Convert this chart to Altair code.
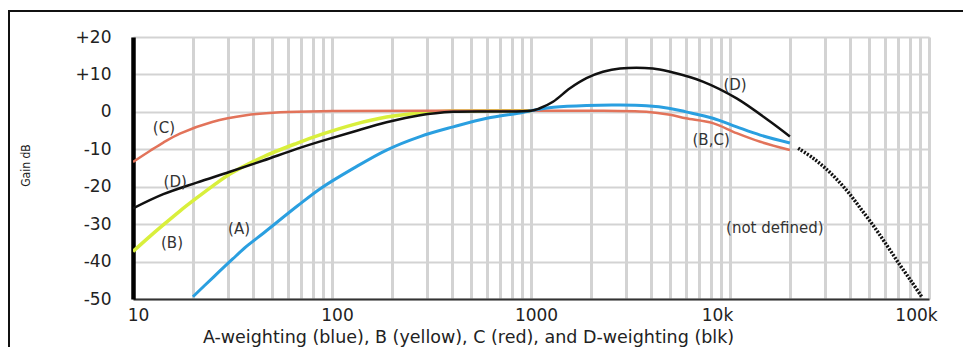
import altair as alt
import pandas as pd

# ---------------- data ----------------
a_freq = [20, 25.3, 31.7, 37.3, 45.5, 67.2, 88, 128, 188, 277, 407, 600, 880, 1000, 1300, 1900, 2800, 3800, 5000, 6000, 8200, 10800, 14200, 20000]
a_db = [-49.4, -44.2, -39.3, -35.9, -32.3, -25.1, -20.4, -15.1, -10.2, -6.6, -4.0, -1.7, -0.3, 0.3, 1.2, 1.7, 1.8, 1.6, 0.9, 0.0, -1.7, -4.0, -6.2, -8.3]

b_freq = [10, 12.2, 14.2, 17.2, 20.9, 25.3, 30.7, 45.2, 66.5, 90, 128, 188, 277, 400, 1000]
b_db = [-37.3, -33.2, -30.2, -26.5, -23.0, -19.7, -16.6, -12.0, -8.4, -5.9, -3.4, -1.4, -0.3, 0.2, 0.3]

c_freq = [10, 12.2, 14.2, 17.2, 25, 37, 55, 100, 1000, 2000, 3800, 5000, 6000, 8200, 10800, 14200, 20000]
c_db = [-13.4, -10.4, -8.2, -5.8, -2.7, -0.9, -0.1, 0.2, 0.3, 0.3, 0.0, -0.8, -1.7, -3.0, -5.7, -8.0, -10.2]

d_freq = [10, 14.2, 20.9, 30.7, 45.2, 66.5, 90, 128, 188, 277, 407, 1000, 1100, 1290, 1570, 1900, 2300, 2800, 4100, 5000, 7300, 10800, 15900, 20000]
d_db = [-25.8, -22.0, -18.9, -16.0, -13.0, -9.9, -7.7, -5.3, -2.8, -0.9, 0.0, 0.3, 0.9, 2.7, 6.3, 9.0, 10.7, 11.6, 11.6, 10.7, 8.1, 3.6, -2.6, -6.6]

ext_freq = [22000, 26200, 31800, 38600, 45000, 52500, 61300, 71400, 81800, 91900]
ext_db = [-9.7, -12.4, -16.2, -21.0, -25.6, -30.4, -35.6, -40.9, -45.4, -49.4]

ann_text = ["(C)", "(D)", "(B)", "(A)", "(D)", "(B,C)", "(not defined)"]
ann_freq = [14.3, 16.3, 15.7, 34.1, 10600, 8040, 16800]
ann_db = [-4.3, -18.7, -35.0, -31.3, 7.2, -7.5, -31.0]

x_tick_values = [10, 100, 1000, 10000, 100000]
x_tick_labels = ["10", "100", "1000", "10k", "100k"]
y_tick_values = [-50, -40, -30, -20, -10, 0, 10, 20]

x_title = "A-weighting (blue), B (yellow), C (red), and D-weighting (blk)"
y_title = "Gain dB"

# ---------------- layout ----------------
W, H = 796, 262
PAD = {"left": 125, "top": 29, "right": 34, "bottom": 48}
FONT = "DejaVu Sans"
CURVE = "catmull-rom"

grid_vals = [m * d for d in x_tick_values[:-1] for m in range(1, 10)] + [x_tick_values[-1]]
label_expr = " : ".join(
    f"datum.value == {v} ? '{t}'" for v, t in zip(x_tick_values, x_tick_labels)
) + " : ''"

x_scale = alt.Scale(type="log", domain=[10, 100000], nice=False)
y_scale = alt.Scale(domain=[-50, 20], nice=False)

x_enc = alt.X(
    "f:Q",
    scale=x_scale,
    axis=alt.Axis(
        values=grid_vals,
        labelExpr=label_expr,
        labelOverlap=False,
        labelFlush=False,
        ticks=False,
        grid=True,
        gridColor="#d3d3d3",
        gridWidth=3,
        domainColor="#333333",
        domainWidth=2,
        labelFont=FONT,
        labelFontSize=17,
        labelColor="#222222",
        labelPadding=8,
        labelOffset={"condition": {"test": "datum.value >= 5000", "value": -13}, "value": 5},
        title=x_title,
        titleFont=FONT,
        titleFontSize=17.5,
        titleFontWeight="normal",
        titleColor="#222222",
        titleX=335,
        titleY=38,
        titleAlign="center",
        titleBaseline="middle",
    ),
)
y_enc = alt.Y(
    "db:Q",
    scale=y_scale,
    axis=alt.Axis(
        values=y_tick_values,
        labelExpr="datum.value > 0 ? '+' + datum.value : '' + datum.value",
        ticks=False,
        grid=True,
        gridColor="#d3d3d3",
        gridWidth=2,
        domainColor="#000000",
        domainWidth=4.5,
        labelFont=FONT,
        labelFontSize=17,
        labelColor="#222222",
        labelPadding=22,
        title=y_title,
        titleFont="'Liberation Sans Narrow', 'DejaVu Sans Condensed', Roboto, 'Liberation Sans', sans-serif",
        titleFontSize=12,
        titleFontWeight="normal",
        titleColor="#222222",
        titleAngle=-90,
        titleX=-108,
        titleY=H / 2 - 3,
        titleAlign="center",
        titleBaseline="middle",
    ),
)


def curve(freqs, dbs, color, width, dash=None):
    df = pd.DataFrame({"f": freqs, "db": dbs})
    kw = dict(color=color, strokeWidth=width, interpolate=CURVE, clip=True)
    if dash:
        kw["strokeDash"] = dash
    return alt.Chart(df).mark_line(**kw).encode(x=x_enc, y=y_enc)


layer_b = curve(b_freq, b_db, "#d9ef3c", 3.5)
layer_c = curve(c_freq, c_db, "#e2735a", 2.5)
layer_a = curve(a_freq, a_db, "#2a9fe0", 3)
layer_d = curve(d_freq, d_db, "#111111", 2.5)
layer_ext = curve(ext_freq, ext_db, "#111111", 3.5, dash=[2, 1.5])

ann = alt.Chart(pd.DataFrame({"f": ann_freq, "db": ann_db, "t": ann_text})).mark_text(
    font=FONT, fontSize=15, color="#333333", align="center", baseline="middle"
).encode(x=x_enc, y=y_enc, text="t:N")

one = pd.DataFrame({"k": [0]})
frame_top = alt.Chart(one).mark_rule(color="#111111", strokeWidth=2).encode(
    x=alt.value(-PAD["left"]), x2=alt.value(W + PAD["right"]), y=alt.value(-26)
)
frame_left = alt.Chart(one).mark_rule(color="#111111", strokeWidth=2).encode(
    x=alt.value(-PAD["left"] + 1), y=alt.value(-26), y2=alt.value(H + PAD["bottom"])
)

chart = (
    alt.layer(layer_b, layer_c, layer_a, layer_d, layer_ext, ann, frame_top, frame_left)
    .properties(width=W, height=H, padding=PAD, autosize=alt.AutoSizeParams(type="none"))
    .configure_view(stroke=None)
    .configure(background="white")
)

chart.save("out.html", embed_options={"renderer": "svg", "actions": False})
